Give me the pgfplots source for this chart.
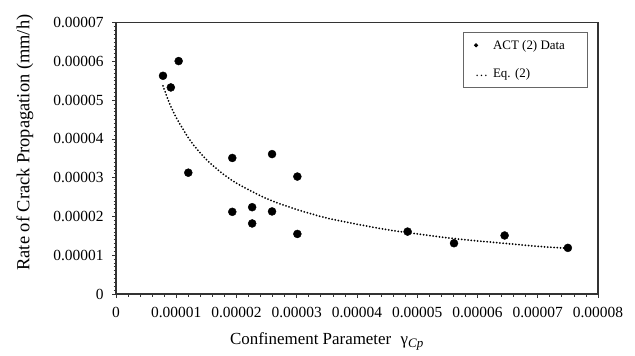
\documentclass[border=0pt]{standalone}
\usepackage{fontspec}
\setmainfont{Liberation Serif}
\usepackage{pgfplots}
\pgfplotsset{compat=1.18}
\begin{document}
\begin{tikzpicture}
\begin{axis}[
  scale only axis, width=482bp, height=271.3bp,
  xmin=0, xmax=8e-5, ymin=0, ymax=7e-5,
  xtick={0,1e-5,2e-5,3e-5,4e-5,5e-5,6e-5,7e-5,8e-5},
  xticklabels={0,0.00001,0.00002,0.00003,0.00004,0.00005,0.00006,0.00007,0.00008},
  ytick={0,1e-5,2e-5,3e-5,4e-5,5e-5,6e-5,7e-5},
  yticklabels={0,0.00001,0.00002,0.00003,0.00004,0.00005,0.00006,0.00007},
  scaled ticks=false,
  minor x tick num=4, minor y tick num=9,
  tick align=outside, tick pos=left,
  major tick length=4bp, minor tick length=2.5bp,
  axis line style={black!80, line width=1.2bp},
  every tick/.style={black!80, line width=0.8bp},
  tick label style={font=\fontsize{15.5}{18}\selectfont},
  yticklabel style={xshift=-5bp},
  xticklabel style={yshift=-6bp},
  xlabel={Confinement Parameter\hspace{0.55em}γ\raisebox{-3.5bp}{\fontsize{13}{15}\selectfont\itshape Cp}},
  ylabel={Rate of Crack Propagation (mm/h)},
  xlabel style={font=\fontsize{17}{20}\selectfont, at={(axis description cs:0.437,-0.175)}, anchor=center},
  ylabel style={font=\fontsize{18.5}{22}\selectfont, at={(axis description cs:-0.189,0.558)}, anchor=center},
  legend style={at={(0.978,0.967)}, anchor=north east, draw=black!60, line width=0.8bp,
    fill=white, font=\fontsize{13}{15}\selectfont, row sep=14bp, inner xsep=10bp, inner ysep=6bp},
  legend cell align=left,
]
\addplot[only marks, mark=*, mark size=4bp, black,
  legend image code/.code={\path (-3bp,0) (13bp,0); \fill[black] (-1bp,0) circle (1.6bp);}]
  coordinates {
  (7.8e-6,5.63e-5) (9.1e-6,5.33e-5) (1.04e-5,6.01e-5) (1.20e-5,3.13e-5)
  (1.93e-5,3.51e-5) (2.59e-5,3.61e-5) (3.01e-5,3.03e-5) (1.93e-5,2.12e-5)
  (2.26e-5,2.24e-5) (2.26e-5,1.82e-5) (2.59e-5,2.13e-5) (3.01e-5,1.55e-5)
  (4.84e-5,1.61e-5) (5.61e-5,1.31e-5) (6.45e-5,1.51e-5) (7.50e-5,1.19e-5)
  };
\addlegendentry{ACT (2) Data\rule{10bp}{0pt}}
\addplot[black, line width=2bp, line cap=round, dash pattern=on 0pt off 3.2bp, smooth,
  legend image code/.code={\path (-3bp,0) (13bp,0); \node[anchor=west, inner sep=0pt] at (-3bp,-3bp) {\ldots};}]
  coordinates {
  (0.78e-5,5.37e-5) (0.88e-5,4.95e-5) (1.0e-5,4.55e-5) (1.25e-5,3.92e-5)
  (1.5e-5,3.47e-5) (1.75e-5,3.13e-5) (2.0e-5,2.86e-5) (2.5e-5,2.46e-5)
  (3.0e-5,2.18e-5) (3.5e-5,1.96e-5) (4.0e-5,1.80e-5) (4.5e-5,1.66e-5)
  (5.0e-5,1.55e-5) (5.5e-5,1.45e-5) (6.0e-5,1.37e-5) (6.5e-5,1.30e-5)
  (7.0e-5,1.23e-5) (7.5e-5,1.18e-5)
  };
\addlegendentry{Eq. (2)}
\end{axis}
\path ([shift={(-116bp,-61bp)}]current axis.south west) rectangle ([shift={(37bp,22.7bp)}]current axis.north east);
\end{tikzpicture}
\end{document}
